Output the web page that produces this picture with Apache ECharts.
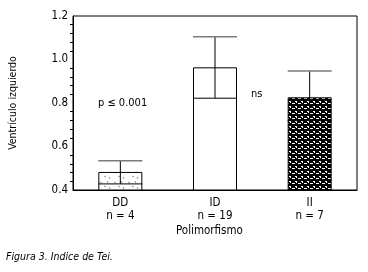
<!DOCTYPE html>
<html>
<head>
<meta charset="utf-8">
<script src="https://cdn.jsdelivr.net/npm/echarts@6/dist/echarts.min.js"></script>
<style>
  html, body { margin: 0; padding: 0; background: #fff; }
  #chart { width: 368px; height: 272px; }
</style>
</head>
<body>
<div id="chart"></div>
<script>
const categories = ['DD', 'ID', 'II'];
const nLabels = ['n = 4', 'n = 19', 'n = 7'];
const means = [0.483, 0.964, 0.826];
const errLow = [0.428, 0.822, 0.719];
const errHigh = [0.535, 1.105, 0.947];

const FONT = "'Liberation Sans Narrow', 'DejaVu Sans Condensed', 'Liberation Sans', Arial, sans-serif";

// sparse speckle pattern for DD
function speckle() {
    const c = document.createElement('canvas');
    c.width = 14; c.height = 10;
    const g = c.getContext('2d');
    g.fillStyle = '#fff';
    g.fillRect(0, 0, 14, 10);
    g.strokeStyle = '#777';
    g.lineWidth = 0.8;
    g.beginPath();
    g.moveTo(2, 2); g.lineTo(4, 3);
    g.moveTo(9, 1); g.lineTo(10, 3);
    g.moveTo(6, 6); g.lineTo(8, 7);
    g.moveTo(11, 7); g.lineTo(12, 9);
    g.stroke();
    return c;
}

// dense black mesh for II
function mesh() {
    const c = document.createElement('canvas');
    c.width = 6; c.height = 5;
    const g = c.getContext('2d');
    g.fillStyle = '#000';
    g.fillRect(0, 0, 6, 5);
    g.fillStyle = '#fff';
    g.fillRect(1, 1, 2, 1);
    g.fillRect(4, 3, 2, 1);
    g.fillRect(2, 2, 1, 1);
    g.fillRect(0, 3, 1, 1);
    return c;
}

const fills = [
    { image: speckle(), repeat: 'repeat' },
    '#fff',
    { image: mesh(), repeat: 'repeat' }
];

const chart = echarts.init(document.getElementById('chart'));

chart.setOption({
    animation: false,
    textStyle: { fontFamily: FONT },
    grid: {
        left: 72, right: 11, top: 16, bottom: 82,
        show: true, borderColor: '#000', borderWidth: 1
    },
    xAxis: {
        type: 'category',
        data: categories,
        axisLine: { lineStyle: { color: '#000' } },
        axisTick: { show: false },
        axisLabel: {
            color: '#000', fontSize: 11.5, lineHeight: 13, margin: 7,
            fontFamily: FONT,
            formatter: (v, i) => v + '\n' + nLabels[i]
        }
    },
    yAxis: {
        type: 'value',
        min: 0.4, max: 1.2, interval: 0.2,
        name: 'Ventrículo izquierdo',
        nameLocation: 'middle',
        nameRotate: 90,
        nameGap: 54,
        nameTextStyle: { color: '#000', fontSize: 10.5, fontFamily: FONT },
        axisLine: { show: true, lineStyle: { color: '#000' } },
        axisTick: { length: 4, lineStyle: { color: '#000' } },
        minorTick: { show: true, splitNumber: 5, length: 3, lineStyle: { color: '#000' } },
        splitLine: { show: false },
        axisLabel: {
            color: '#000', fontSize: 11.5, margin: 5, fontFamily: FONT,
            formatter: v => v.toFixed(1)
        }
    },
    series: [
        {
            type: 'bar',
            barWidth: 44,
            data: means.map((v, i) => ({ value: v, itemStyle: { color: fills[i] } })),
            itemStyle: { borderColor: '#000', borderWidth: 1 }
        },
        {
            type: 'custom',
            data: categories.map((c, i) => [i, errLow[i], errHigh[i]]),
            z: 10,
            renderItem: (params, api) => {
                const lo = api.coord([api.value(0), api.value(1)]);
                const hi = api.coord([api.value(0), api.value(2)]);
                const hw = 22;
                return {
                    type: 'group',
                    children: [
                        { type: 'line', shape: { x1: hi[0], y1: hi[1], x2: lo[0], y2: lo[1] },
                          style: { stroke: '#000', lineWidth: 1 } },
                        { type: 'line', shape: { x1: hi[0] - hw, y1: hi[1], x2: hi[0] + hw, y2: hi[1] },
                          style: { stroke: '#7a7a7a', lineWidth: 1.5 } },
                        { type: 'line', shape: { x1: lo[0] - hw, y1: lo[1], x2: lo[0] + hw, y2: lo[1] },
                          style: { stroke: '#000', lineWidth: 1 } }
                    ]
                };
            }
        }
    ],
    graphic: [
        { type: 'text', left: 98, top: 98,
          style: { text: 'p ≤ 0.001', fontSize: 11, fill: '#000', fontFamily: FONT } },
        { type: 'text', left: 251, top: 89,
          style: { text: 'ns', fontSize: 11, fill: '#000', fontFamily: FONT } },
        { type: 'text', left: 176, top: 225,
          style: { text: 'Polimorfismo', fontSize: 11.5, fill: '#000', fontFamily: FONT } },
        { type: 'text', left: 6, top: 252,
          style: { text: 'Figura 3. Indice de Tei.', fontSize: 10.5, fontStyle: 'italic', fill: '#000', fontFamily: FONT } }
    ]
});
</script>
</body>
</html>
